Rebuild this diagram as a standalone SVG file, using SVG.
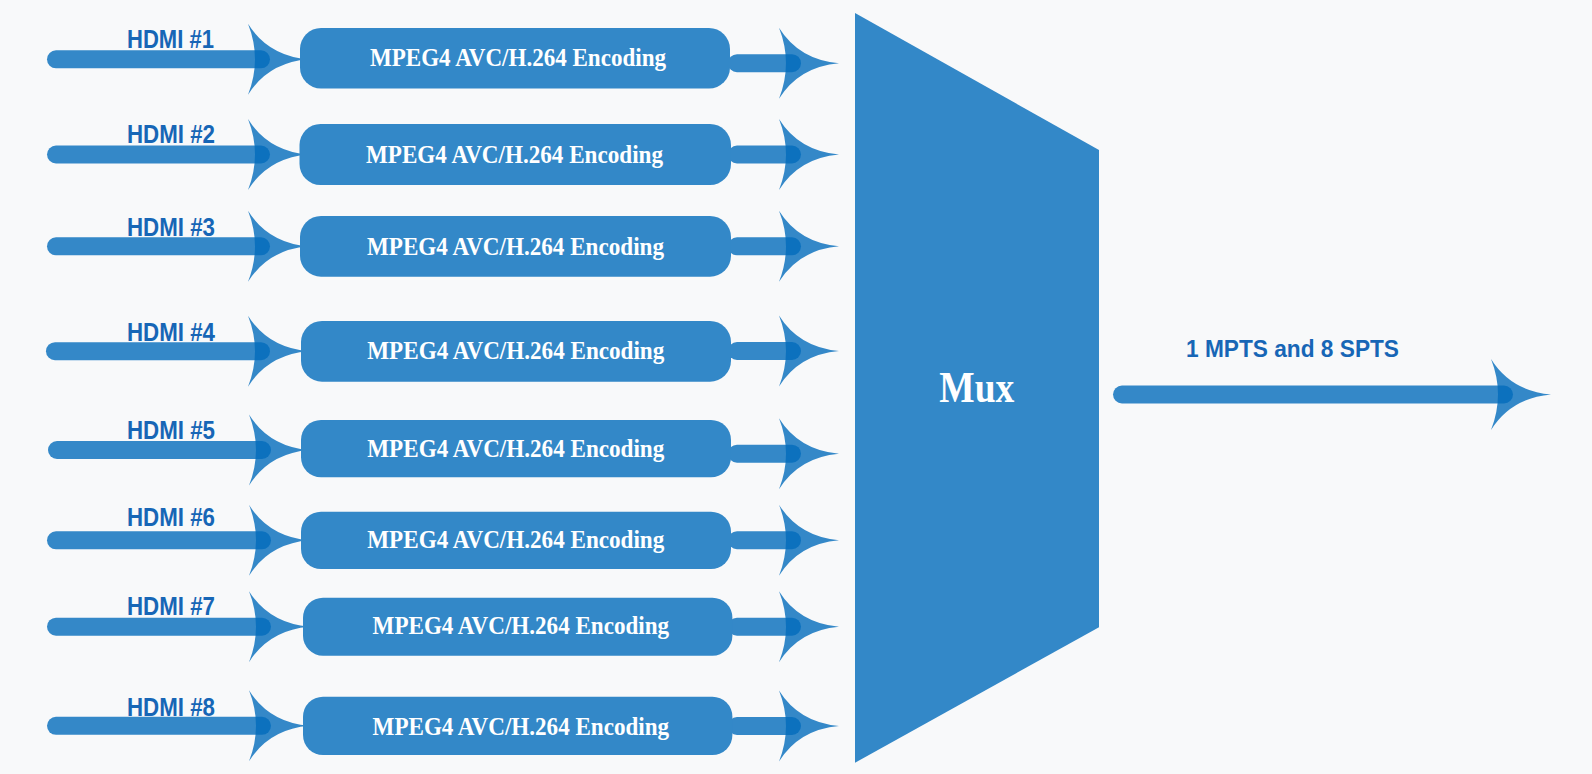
<svg xmlns="http://www.w3.org/2000/svg" width="1592" height="774" viewBox="0 0 1592 774">
<style>
.bg{fill:#f8f9fa}
.lbl{font-family:"Liberation Sans",Arial,sans-serif;font-weight:bold;font-size:25px;fill:#1766b6}
.out{font-family:"Liberation Sans",Arial,sans-serif;font-weight:bold;font-size:23px;fill:#1766b6}
.conn{fill:none;stroke:#026bbb;stroke-opacity:0.8;stroke-width:18;stroke-linecap:round}
.box{fill:#3388c8}
.btxt{font-family:"Liberation Serif","Times New Roman",serif;font-weight:bold;font-size:26px;fill:#ffffff}
.mux{fill:#3388c8}
.muxt{font-family:"Liberation Serif","Times New Roman",serif;font-weight:bold;font-size:45px;fill:#ffffff}
</style>
<defs>
<marker id="ah" markerUnits="userSpaceOnUse" orient="auto" markerWidth="61" markerHeight="72" refX="13" refY="35.5" overflow="visible">
<path d="M0,0 Q20,32 60,35.5 Q20,39 0,71 Q14,35.5 0,0 Z" fill="#026bbb" fill-opacity="0.8"/>
</marker>
</defs>
<rect class="bg" x="0" y="0" width="1592" height="774"/>
<g id="labels">
<text class="lbl" x="127" y="47.5" textLength="87" lengthAdjust="spacingAndGlyphs">HDMI #1</text>
<text class="lbl" x="127" y="142.5" textLength="88" lengthAdjust="spacingAndGlyphs">HDMI #2</text>
<text class="lbl" x="127" y="236" textLength="88" lengthAdjust="spacingAndGlyphs">HDMI #3</text>
<text class="lbl" x="127" y="340.5" textLength="88" lengthAdjust="spacingAndGlyphs">HDMI #4</text>
<text class="lbl" x="127" y="439" textLength="88" lengthAdjust="spacingAndGlyphs">HDMI #5</text>
<text class="lbl" x="127" y="525.5" textLength="88" lengthAdjust="spacingAndGlyphs">HDMI #6</text>
<text class="lbl" x="127" y="615" textLength="88" lengthAdjust="spacingAndGlyphs">HDMI #7</text>
<text class="lbl" x="127" y="716" textLength="88" lengthAdjust="spacingAndGlyphs">HDMI #8</text>
<text class="out" x="1186" y="356.5" textLength="213" lengthAdjust="spacingAndGlyphs">1 MPTS and 8 SPTS</text>
</g>
<g id="connectors">
<path class="conn" marker-end="url(#ah)" d="M56,59.3 L261,59.3"/>
<path class="conn" marker-end="url(#ah)" d="M56,154.5 L261,154.5"/>
<path class="conn" marker-end="url(#ah)" d="M56,246.3 L261,246.3"/>
<path class="conn" marker-end="url(#ah)" d="M55,351.2 L261,351.2"/>
<path class="conn" marker-end="url(#ah)" d="M57,450 L262,450"/>
<path class="conn" marker-end="url(#ah)" d="M56,540.3 L262,540.3"/>
<path class="conn" marker-end="url(#ah)" d="M56,626.7 L262,626.7"/>
<path class="conn" marker-end="url(#ah)" d="M56,725.8 L262,725.8"/>
<path class="conn" marker-end="url(#ah)" d="M737,63.2 L792,63.2"/>
<path class="conn" marker-end="url(#ah)" d="M737,154.5 L792,154.5"/>
<path class="conn" marker-end="url(#ah)" d="M737,246.3 L792,246.3"/>
<path class="conn" marker-end="url(#ah)" d="M737,351 L792,351"/>
<path class="conn" marker-end="url(#ah)" d="M737,453.7 L792,453.7"/>
<path class="conn" marker-end="url(#ah)" d="M737,540.2 L792,540.2"/>
<path class="conn" marker-end="url(#ah)" d="M737,626.7 L792,626.7"/>
<path class="conn" marker-end="url(#ah)" d="M737,726 L792,726"/>
<path class="conn" marker-end="url(#ah)" d="M1122,394.5 L1504,394.5"/>
</g>
<g id="enc1"><rect class="box" x="300" y="28" width="430" height="60.5" rx="21" ry="21"/><text class="btxt" x="370" y="65.7" textLength="296" lengthAdjust="spacingAndGlyphs">MPEG4 AVC/H.264 Encoding</text></g>
<g id="enc2"><rect class="box" x="299.5" y="124" width="431.5" height="61" rx="21" ry="21"/><text class="btxt" x="366" y="162.7" textLength="297" lengthAdjust="spacingAndGlyphs">MPEG4 AVC/H.264 Encoding</text></g>
<g id="enc3"><rect class="box" x="300" y="216" width="431" height="60.7" rx="21" ry="21"/><text class="btxt" x="367" y="255" textLength="297" lengthAdjust="spacingAndGlyphs">MPEG4 AVC/H.264 Encoding</text></g>
<g id="enc4"><rect class="box" x="301" y="321" width="430" height="60.7" rx="21" ry="21"/><text class="btxt" x="367.3" y="359.3" textLength="297" lengthAdjust="spacingAndGlyphs">MPEG4 AVC/H.264 Encoding</text></g>
<g id="enc5"><rect class="box" x="301" y="420" width="430" height="57.3" rx="20" ry="20"/><text class="btxt" x="367.3" y="456.7" textLength="297" lengthAdjust="spacingAndGlyphs">MPEG4 AVC/H.264 Encoding</text></g>
<g id="enc6"><rect class="box" x="301" y="511.7" width="430" height="57.3" rx="20" ry="20"/><text class="btxt" x="367.3" y="547.7" textLength="297" lengthAdjust="spacingAndGlyphs">MPEG4 AVC/H.264 Encoding</text></g>
<g id="enc7"><rect class="box" x="303" y="597.7" width="429.4" height="58" rx="20" ry="20"/><text class="btxt" x="372.6" y="634.3" textLength="296.5" lengthAdjust="spacingAndGlyphs">MPEG4 AVC/H.264 Encoding</text></g>
<g id="enc8"><rect class="box" x="303" y="696.7" width="429.4" height="58.3" rx="20" ry="20"/><text class="btxt" x="372.6" y="735" textLength="296.5" lengthAdjust="spacingAndGlyphs">MPEG4 AVC/H.264 Encoding</text></g>
<g id="mux"><polygon class="mux" points="855,13 1099,150 1099,627.3 855,762.7"/><text class="muxt" x="939.3" y="401.7" textLength="75" lengthAdjust="spacingAndGlyphs">Mux</text></g>
</svg>
